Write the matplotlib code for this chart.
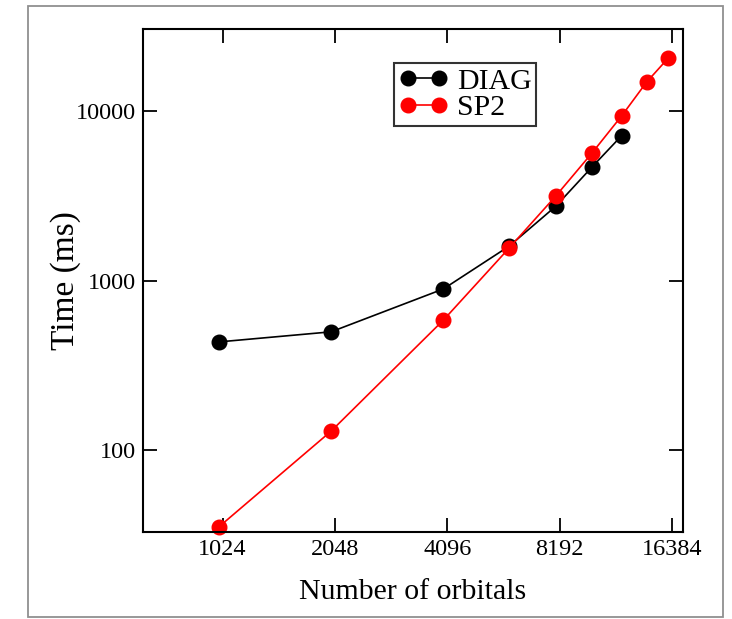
import matplotlib
matplotlib.use('Agg')
import matplotlib.pyplot as plt
from matplotlib.patches import Rectangle
from matplotlib.ticker import FixedLocator, NullLocator, FixedFormatter

plt.rcParams['font.family'] = ['Liberation Serif', 'DejaVu Serif']

# orbitals vs time (ms)
diag_n = [1000, 2000, 4000, 6000, 8000, 10000, 12000]
diag_t = [436, 500, 895, 1600, 2750, 4680, 7150]

sp2_n = [1000, 2000, 4000, 6000, 8000, 10000, 12000, 14000, 16000]
sp2_t = [35.4, 130, 587, 1560, 3160, 5660, 9350, 14800, 20500]

xticks = [1024, 2048, 4096, 8192, 16384]
yticks = [100, 1000, 10000]

fig = plt.figure(figsize=(7.32, 6.19), dpi=100)
ax = fig.add_axes([143/732, 1-532/619, 540/732, 503/619])

ax.plot(diag_n, diag_t, '-o', color='black', lw=1.2, ms=10.5, label='DIAG')
ax.plot(sp2_n, sp2_t, '-o', color='red', lw=1.2, ms=10.5, label='SP2', clip_on=False)

ax.set_xscale('log', base=2)
ax.set_yscale('log')
ax.set_xlim(627, 17520)
ax.set_ylim(33.1, 30400)

ax.xaxis.set_major_locator(FixedLocator(xticks))
ax.xaxis.set_major_formatter(FixedFormatter([str(v) for v in xticks]))
ax.xaxis.set_minor_locator(NullLocator())
ax.yaxis.set_major_locator(FixedLocator(yticks))
ax.yaxis.set_major_formatter(FixedFormatter([str(v) for v in yticks]))
ax.yaxis.set_minor_locator(NullLocator())

ax.tick_params(direction='in', length=10, width=1.3, labelsize=17.5,
               top=True, right=True, pad=5)
for s in ax.spines.values():
    s.set_linewidth(1.5)

ax.set_xlabel('Number of orbitals', fontsize=21.5, labelpad=14)
ax.set_ylabel('Time (ms)', fontsize=24, labelpad=-4)

leg = ax.legend(loc='upper left', bbox_to_anchor=(0.465, 0.932), fontsize=21.5,
                frameon=True, fancybox=False, numpoints=2, handlelength=1.65,
                handletextpad=0.3, borderpad=0.15, labelspacing=0.0,
                borderaxespad=0)
leg.get_frame().set_edgecolor('black')
leg.get_frame().set_linewidth(1.5)

# outer grey frame
fig.patches.append(Rectangle((28/732, 1-617/619), 695/732, 611/619,
                             transform=fig.transFigure, fill=False,
                             edgecolor='#909090', lw=1.3))

fig.savefig('out.png', dpi=100)
